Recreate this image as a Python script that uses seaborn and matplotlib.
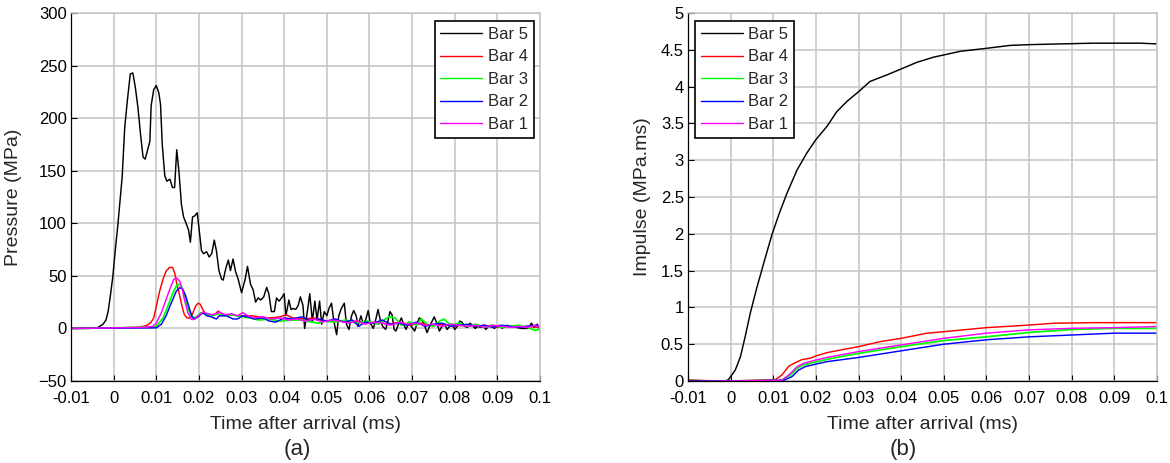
import matplotlib
matplotlib.use("Agg")
import matplotlib.pyplot as plt
import numpy as np
import pandas as pd
import seaborn as sns

# ---------------------------------------------------------------- data
series_names = ["Bar 5", "Bar 4", "Bar 3", "Bar 2", "Bar 1"]
series_colors = ["#000000", "#ff0000", "#00ff00", "#0000ff", "#ff00ff"]

# Pressure histories (time after arrival in ms, pressure in MPa)
bar5_p_t = [
    -0.0100, -0.0060, -0.0040, -0.0034, -0.0025, -0.0018, -0.0013, -0.0008, -0.0002, 0.0004,
    0.0010, 0.0015, 0.0020, 0.0026, 0.0032, 0.0039, 0.0045, 0.0051, 0.0057, 0.0063,
    0.0069, 0.0074, 0.0081, 0.0085, 0.0088, 0.0094, 0.0100, 0.0106, 0.0110, 0.0114,
    0.0120, 0.0125, 0.0132, 0.0138, 0.0143, 0.0148, 0.0153, 0.0159, 0.0164, 0.0171,
    0.0176, 0.0180, 0.0185, 0.0190, 0.0196, 0.0200, 0.0206, 0.0211, 0.0218, 0.0224,
    0.0230, 0.0236, 0.0241, 0.0247, 0.0253, 0.0257, 0.0263, 0.0269, 0.0274, 0.0280,
    0.0286, 0.0292, 0.0300, 0.0308, 0.0314, 0.0321, 0.0327, 0.0333, 0.0339, 0.0345,
    0.0352, 0.0359, 0.0364, 0.0370, 0.0377, 0.0382, 0.0388, 0.0394, 0.0400, 0.0404,
    0.0411, 0.0416, 0.0421, 0.0427, 0.0433, 0.0438, 0.0444, 0.0448, 0.0455, 0.0460,
    0.0466, 0.0472, 0.0477, 0.0483, 0.0488, 0.0494, 0.0500, 0.0505, 0.0511, 0.0516,
    0.0523, 0.0528, 0.0534, 0.0541, 0.0546, 0.0552, 0.0558, 0.0563, 0.0569, 0.0573,
    0.0580, 0.0585, 0.0591, 0.0597, 0.0602, 0.0609, 0.0614, 0.0620, 0.0626, 0.0631,
    0.0638, 0.0644, 0.0648, 0.0653, 0.0658, 0.0662, 0.0669, 0.0675, 0.0680, 0.0686,
    0.0692, 0.0698, 0.0706, 0.0712, 0.0717, 0.0723, 0.0730, 0.0735, 0.0741, 0.0747,
    0.0752, 0.0759, 0.0764, 0.0770, 0.0777, 0.0782, 0.0788, 0.0794, 0.0800, 0.0806,
    0.0812, 0.0817, 0.0823, 0.0830, 0.0836, 0.0843, 0.0848, 0.0854, 0.0860, 0.0867,
    0.0873, 0.0879, 0.0885, 0.0893, 0.0899, 0.0906, 0.0911, 0.0917, 0.0924, 0.0930,
    0.0937, 0.0945, 0.0956, 0.0964, 0.0972, 0.0980, 0.0986, 0.0994, 0.1000,
]
bar5_p = [
    0, 0, 0.5, 1.5, 4, 8, 16, 30, 49, 75,
    99, 122, 144, 191, 216, 242, 243, 229, 210, 185,
    163, 161, 172, 178, 212, 227, 231, 224, 213, 175,
    145, 140, 142, 134, 134, 170, 150, 118, 106, 99,
    93, 82, 106, 107, 110, 96, 74, 71, 73, 68,
    71, 84, 74, 55, 47, 46, 57, 65, 55, 66,
    54, 47, 34, 46, 59, 42, 37, 25, 29, 27,
    30, 39, 33, 16, 16, 29, 26, 29, 33, 12,
    27, 18, 19, 18, 22, 30, 22, 0, 18, 33,
    7, 26, 8, 26, 4, 16, 12, 19, 24, 8,
    -6, 12, 19, 24, 4, -1, 12, 17, 12, 2,
    12, 5, 8, 17, 5, 0, 7, 18, 7, 2,
    -1, 8, 16, 13, -1, -2.5, 5, 10, 4, -1,
    6, 2, -2.5, 5, 10, 8, 2, -4, 2, 7,
    11, 4, -2.5, 2, 4, -1, 2, 4, -1, 2,
    7, 6, 2, 1, 5, 2, 0, 2, 1, 2,
    -1, 2, 3, 0, 2, 3, 0, 2, 3, 1,
    2, 1, 0, 0, 0, 5, 1, 4, -2.5,
]

bar4_p_t = [
    -0.0100, 0.0000, 0.0050, 0.0070, 0.0081, 0.0088, 0.0094, 0.0100, 0.0108, 0.0116,
    0.0123, 0.0131, 0.0138, 0.0143, 0.0148, 0.0155, 0.0161, 0.0166, 0.0172, 0.0180,
    0.0186, 0.0192, 0.0198, 0.0203, 0.0209, 0.0217, 0.0225, 0.0237, 0.0245, 0.0250,
    0.0258, 0.0270, 0.0280, 0.0291, 0.0303, 0.0315, 0.0327, 0.0340, 0.0365, 0.0390,
    0.0405, 0.0420, 0.0445, 0.0470, 0.0495, 0.0520, 0.0545, 0.0570, 0.0595, 0.0620,
    0.0645, 0.0670, 0.0695, 0.0720, 0.0745, 0.0770, 0.0795, 0.0820, 0.0845, 0.0870,
    0.0895, 0.0920, 0.0945, 0.0970, 0.1000,
]
bar4_p = [
    0, 0.5, 1, 2, 3.5, 6, 10, 21, 35.5, 47,
    54.5, 58, 58, 53, 43, 31, 20, 13, 10, 10,
    15, 21, 24, 23, 18, 13, 13, 13, 16.5, 15,
    13, 13, 13, 12, 12, 12, 12, 11, 10, 11,
    13, 10, 9, 10, 7, 8, 6, 7, 5, 6,
    4, 6, 3, 5, 3, 4, 2, 3, 2, 3,
    1, 2, 1, 2, 1,
]

bar3_p_t = [
    -0.0100, 0.0000, 0.0060, 0.0090, 0.0100, 0.0116, 0.0127, 0.0139, 0.0148, 0.0155,
    0.0163, 0.0170, 0.0178, 0.0186, 0.0194, 0.0205, 0.0217, 0.0230, 0.0245, 0.0260,
    0.0275, 0.0290, 0.0305, 0.0320, 0.0340, 0.0365, 0.0390, 0.0415, 0.0440, 0.0465,
    0.0480, 0.0495, 0.0520, 0.0545, 0.0570, 0.0595, 0.0620, 0.0645, 0.0660, 0.0675,
    0.0695, 0.0710, 0.0722, 0.0735, 0.0750, 0.0765, 0.0775, 0.0790, 0.0810, 0.0830,
    0.0850, 0.0870, 0.0890, 0.0910, 0.0930, 0.0950, 0.0970, 0.0990, 0.1000,
]
bar3_p = [
    0, 0.5, 1, 1.5, 2, 10, 21, 34, 41, 42,
    37, 26, 15, 10, 11, 15, 13, 12, 14, 12,
    13, 12, 11, 10, 8, 9, 7, 8, 8, 6,
    5, 7, 6, 8, 5, 7, 4, 11, 10, 3,
    6, 3, 9, 4, 2, 7, 9, 3, 5, 2,
    4, 1, 3, 1, 2, 3, 1, -2, 0,
]

bar2_p_t = [
    -0.0100, 0.0000, 0.0080, 0.0100, 0.0112, 0.0123, 0.0135, 0.0147, 0.0155, 0.0161,
    0.0169, 0.0177, 0.0184, 0.0190, 0.0198, 0.0209, 0.0219, 0.0229, 0.0241, 0.0248,
    0.0265, 0.0280, 0.0290, 0.0303, 0.0315, 0.0330, 0.0350, 0.0365, 0.0380, 0.0400,
    0.0420, 0.0440, 0.0460, 0.0480, 0.0500, 0.0520, 0.0540, 0.0560, 0.0575, 0.0590,
    0.0610, 0.0630, 0.0650, 0.0670, 0.0690, 0.0710, 0.0730, 0.0750, 0.0770, 0.0790,
    0.0810, 0.0830, 0.0850, 0.0870, 0.0890, 0.0910, 0.0930, 0.0950, 0.0970, 0.0990,
    0.1000,
]
bar2_p = [
    0, 0.3, 0.5, 0.6, 4, 12, 24, 35.5, 38.7, 37.7,
    31, 20, 11, 9, 11, 15, 12, 11, 9, 12,
    12, 9, 9, 12, 11, 9, 10, 7, 6, 10,
    9, 11, 8, 9, 7, 9, 6, 8, 2, 6,
    5, 8, 4, 5, 3, 6, 2, 4, 5, 2,
    3, 4, 2, 3, 1, 3, 2, 1, 2, 3,
    1,
]

bar1_p_t = [
    -0.0100, 0.0000, 0.0070, 0.0092, 0.0100, 0.0112, 0.0123, 0.0133, 0.0141, 0.0148,
    0.0155, 0.0161, 0.0166, 0.0174, 0.0182, 0.0190, 0.0198, 0.0209, 0.0221, 0.0233,
    0.0248, 0.0262, 0.0277, 0.0290, 0.0303, 0.0315, 0.0330, 0.0350, 0.0370, 0.0390,
    0.0410, 0.0430, 0.0450, 0.0470, 0.0490, 0.0510, 0.0530, 0.0550, 0.0570, 0.0590,
    0.0610, 0.0630, 0.0650, 0.0670, 0.0690, 0.0710, 0.0730, 0.0750, 0.0770, 0.0790,
    0.0810, 0.0830, 0.0850, 0.0870, 0.0890, 0.0910, 0.0930, 0.0950, 0.0970, 0.0990,
    0.1000,
]
bar1_p = [
    0, 0.5, 1, 2, 5, 15, 27.6, 38.7, 46.6, 48,
    45, 37, 27.6, 15, 8.6, 8.6, 12, 15.5, 14, 13,
    15.5, 13, 14, 12, 15, 12, 10, 11, 9, 10,
    8, 9, 7, 9, 6, 8, 7, 5, 7, 4,
    6, 5, 3, 6, 4, 5, 3, 4, 2, 4,
    3, 2, 3, 1, 3, 2, 1, 2, 1, 3,
    1,
]

# Impulse histories (time after arrival in ms, impulse in MPa.ms)
bar5_i_t = [
    -0.0100, -0.0040, -0.0015, -0.0005, 0.0000, 0.0011, 0.0023, 0.0034, 0.0046, 0.0062,
    0.0081, 0.0097, 0.0113, 0.0132, 0.0156, 0.0179, 0.0200, 0.0226, 0.0249, 0.0273,
    0.0300, 0.0327, 0.0367, 0.0400, 0.0437, 0.0476, 0.0500, 0.0539, 0.0600, 0.0656,
    0.0700, 0.0773, 0.0852, 0.0961, 0.1000,
]
bar5_i = [
    0.01, 0.0, -0.01, 0.02, 0.06, 0.15, 0.33, 0.60, 0.92, 1.28,
    1.67, 1.99, 2.26, 2.55, 2.87, 3.10, 3.28, 3.46, 3.66, 3.80,
    3.93, 4.07, 4.16, 4.24, 4.33, 4.40, 4.43, 4.48, 4.52, 4.56,
    4.57, 4.58, 4.59, 4.59, 4.58,
]
bar4_i_t = [
    -0.0100, 0.0000, 0.0105, 0.0120, 0.0136, 0.0152, 0.0167, 0.0187, 0.0200, 0.0226,
    0.0257, 0.0300, 0.0351, 0.0400, 0.0461, 0.0500, 0.0600, 0.0700, 0.0758, 0.0852,
    0.1000,
]
bar4_i = [
    0.01, 0.0, 0.02, 0.08, 0.20, 0.25, 0.29, 0.31, 0.34, 0.385,
    0.42, 0.467, 0.535, 0.58, 0.65, 0.67, 0.725, 0.76, 0.785, 0.793,
    0.793,
]
bar3_i_t = [-0.0100, 0.0000, 0.0120, 0.0140, 0.0156, 0.0171, 0.0200, 0.0226,
            0.0300, 0.0400, 0.0500, 0.0600, 0.0700, 0.0800, 0.0900, 0.1000]
bar3_i = [-0.01, 0.0, 0.01, 0.08, 0.17, 0.22, 0.26, 0.295,
          0.376, 0.467, 0.55, 0.60, 0.66, 0.70, 0.716, 0.716]
bar2_i_t = [-0.0100, 0.0000, 0.0125, 0.0144, 0.0160, 0.0175, 0.0200, 0.0226,
            0.0300, 0.0400, 0.0500, 0.0600, 0.0700, 0.0800, 0.0900, 0.1000]
bar2_i = [0.0, 0.0, 0.01, 0.06, 0.15, 0.195, 0.23, 0.263,
          0.32, 0.41, 0.50, 0.56, 0.60, 0.625, 0.65, 0.65]
bar1_i_t = [-0.0100, 0.0000, 0.0120, 0.0140, 0.0156, 0.0171, 0.0200, 0.0226,
            0.0300, 0.0400, 0.0500, 0.0600, 0.0700, 0.0800, 0.0900, 0.1000]
bar1_i = [-0.01, 0.0, 0.01, 0.10, 0.195, 0.24, 0.285, 0.32,
          0.40, 0.49, 0.58, 0.65, 0.695, 0.716, 0.725, 0.74]

x_ticks = [-0.01, 0, 0.01, 0.02, 0.03, 0.04, 0.05, 0.06, 0.07, 0.08, 0.09, 0.1]
x_tick_labels = ["-0.01", "0", "0.01", "0.02", "0.03", "0.04", "0.05",
                 "0.06", "0.07", "0.08", "0.09", "0.1"]
p_ticks = [-50, 0, 50, 100, 150, 200, 250, 300]
i_ticks = [0, 0.5, 1, 1.5, 2, 2.5, 3, 3.5, 4, 4.5, 5]
i_tick_labels = ["0", "0.5", "1", "1.5", "2", "2.5", "3", "3.5", "4", "4.5", "5"]


def long_frame(pairs, value_name):
    frames = []
    for name, (t, v) in zip(series_names, pairs):
        frames.append(pd.DataFrame({"t": t, value_name: v, "bar": name}))
    return pd.concat(frames, ignore_index=True)


pressure_df = long_frame(
    [(bar5_p_t, bar5_p), (bar4_p_t, bar4_p), (bar3_p_t, bar3_p),
     (bar2_p_t, bar2_p), (bar1_p_t, bar1_p)], "pressure")
impulse_df = long_frame(
    [(bar5_i_t, bar5_i), (bar4_i_t, bar4_i), (bar3_i_t, bar3_i),
     (bar2_i_t, bar2_i), (bar1_i_t, bar1_i)], "impulse")

# ---------------------------------------------------------------- style
sns.set_theme(style="ticks")
plt.rcParams["font.family"] = ["Liberation Sans", "DejaVu Sans"]

palette = dict(zip(series_names, series_colors))
W, H = 1170, 463
fig = plt.figure(figsize=(W / 100, H / 100), dpi=100)
ax1 = fig.add_axes([71 / W, 82 / H, 469 / W, 368 / H])
ax2 = fig.add_axes([688 / W, 82 / H, 469 / W, 368 / H])

grid_color = "#c4c4c4"


def style_axes(ax):
    ax.grid(True, color=grid_color, linewidth=1.1)
    ax.set_axisbelow(True)
    for side in ["top", "right"]:
        ax.spines[side].set_color(grid_color)
        ax.spines[side].set_linewidth(1.1)
    for side in ["left", "bottom"]:
        ax.spines[side].set_color("black")
        ax.spines[side].set_linewidth(0.9)
    ax.tick_params(direction="in", length=4, width=0.8, colors="black",
                   labelsize=12)
    ax.tick_params(axis="x", pad=7)
    ax.tick_params(axis="y", pad=3)
    ax.set_xlim(-0.01, 0.1)
    ax.set_xticks(x_ticks)
    ax.set_xticklabels(x_tick_labels)
    ax.set_xlabel("Time after arrival (ms)", fontsize=14)
    ax.xaxis.set_label_coords(0.5, -0.095)


for ax, df, col in [(ax1, pressure_df, "pressure"), (ax2, impulse_df, "impulse")]:
    sns.lineplot(data=df, x="t", y=col, hue="bar", hue_order=series_names,
                 palette=palette, estimator=None, sort=False, linewidth=1.05,
                 ax=ax, legend=True)
    for line in ax.lines:
        if line.get_color() in ("#00ff00",):
            line.set_linewidth(1.3)
    style_axes(ax)

ax1.set_ylim(-50, 300)
ax1.set_yticks(p_ticks)
ax1.set_ylabel("Pressure (MPa)", fontsize=14)
ax1.yaxis.set_label_coords(-0.105, 0.5)

ax2.set_ylim(0, 5)
ax2.set_yticks(i_ticks)
ax2.set_yticklabels(i_tick_labels)
ax2.set_ylabel("Impulse (MPa.ms)", fontsize=14)
ax2.yaxis.set_label_coords(-0.079, 0.5)

legend_kw = dict(fontsize=12, frameon=True, fancybox=False, framealpha=1,
                 edgecolor="black", handlelength=2.5, handletextpad=0.35,
                 labelspacing=0.45, borderpad=0.35, borderaxespad=0.0,
                 title=None)
leg1 = ax1.legend(loc="upper right", bbox_to_anchor=(0.987, 0.978), **legend_kw)
leg2 = ax2.legend(loc="upper left", bbox_to_anchor=(0.015, 0.978), **legend_kw)
for leg in (leg1, leg2):
    leg.get_frame().set_linewidth(1.2)
    for h in leg.get_lines():
        h.set_linewidth(1.0)

fig.text(297 / W, 1 - 449 / H, "(a)", fontsize=16, ha="center", va="center")
fig.text(903 / W, 1 - 449 / H, "(b)", fontsize=16, ha="center", va="center")

fig.savefig("out.png", dpi=100, facecolor="white")
